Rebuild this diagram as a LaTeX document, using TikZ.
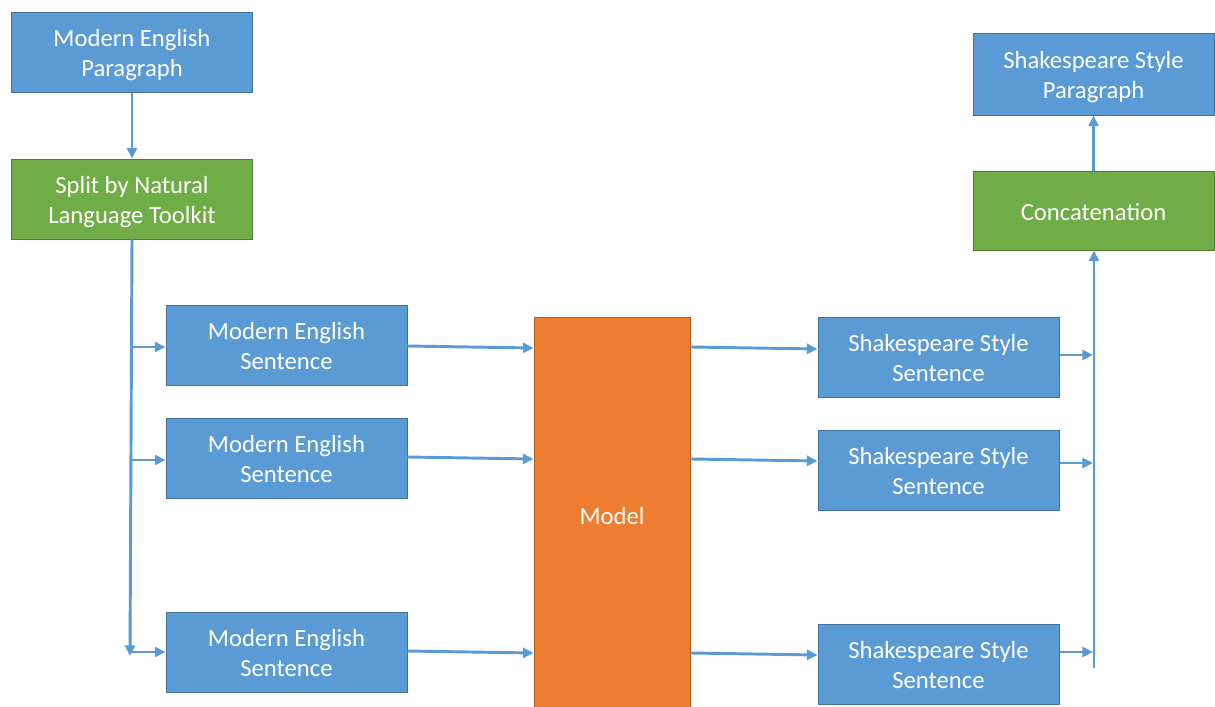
\documentclass[tikz,border=0pt]{standalone}
\usepackage{fontspec}
\setmainfont{Carlito}
\usetikzlibrary{arrows.meta}
\definecolor{bluefill}{HTML}{5B9BD5}
\definecolor{blueline}{HTML}{41719C}
\definecolor{greenfill}{HTML}{70AD47}
\definecolor{greenline}{HTML}{507E32}
\definecolor{orangefill}{HTML}{ED7D31}
\definecolor{orangeline}{HTML}{AE5A21}
\definecolor{arrowblue}{HTML}{5B9BD5}
\newcommand\boxtext[1]{\raisebox{-2.4pt}[\height][\depth]{\begin{tabular}{@{}c@{}}#1\end{tabular}}}
\newcommand\onetext[1]{\raisebox{-1.5pt}[\height][\depth]{#1}}
\tikzset{
  box/.style={draw=blueline, fill=bluefill, line width=0.75pt, text=white,
    minimum width=180.75pt, minimum height=60pt, inner sep=0pt, align=center,
    font=\fontsize{18.5pt}{22.5pt}\selectfont},
  gbox/.style={box, draw=greenline, fill=greenfill},
  obox/.style={box, draw=orangeline, fill=orangefill, minimum width=117pt, minimum height=296.25pt},
  conn/.style={draw=arrowblue, line width=2.2pt, -{Triangle[length=8pt,width=7.5pt]}}
}
\begin{document}
\begin{tikzpicture}[x=0.75pt,y=-0.75pt]
\useasboundingbox (0,0) rectangle (1215,707);
\node[box] (mep) at (132,52.5) {\boxtext{Modern English\\Paragraph}};
\node[gbox] (split) at (132,199) {\boxtext{Split by Natural\\Language Toolkit}};
\node[box] (mes1) at (286.5,345) {\boxtext{Modern English\\Sentence}};
\node[box] (mes2) at (286.5,458) {\boxtext{Modern English\\Sentence}};
\node[box] (mes3) at (286.5,652) {\boxtext{Modern English\\Sentence}};
\node[obox] (model) at (612,514.5) {\onetext{Model}};
\node[box] (sss1) at (938.5,357) {\boxtext{Shakespeare Style\\Sentence}};
\node[box] (sss2) at (938.5,470) {\boxtext{Shakespeare Style\\Sentence}};
\node[box] (sss3) at (938.5,664) {\boxtext{Shakespeare Style\\Sentence}};
\node[gbox, minimum height=59.25pt] (concat) at (1093.5,210.5) {\onetext{Concatenation}};
\node[box, minimum height=61.5pt] (ssp) at (1093.5,74) {\boxtext{Shakespeare Style\\Paragraph}};

% left trunk
\coordinate (lbot) at (130,656);
\coordinate (b1) at (130,347);
\coordinate (b2) at (130,460);
\coordinate (b3) at (130,652);
\draw[conn] (mep.south) -- (split.north);
\draw[conn] (split.south) -- (lbot);
\draw[conn] (b1) -- (b1 -| mes1.west);
\draw[conn] (b2) -- (b2 -| mes2.west);
\draw[conn] (b3) -- (b3 -| mes3.west);

% sentences to model
\draw[conn] (mes1.east |- 0,346) -- (model.west |- 0,348);
\draw[conn] (mes2.east |- 0,457) -- (model.west |- 0,459);
\draw[conn] (mes3.east |- 0,651) -- (model.west |- 0,653);

% model to outputs
\draw[conn] (model.east |- 0,347) -- (sss1.west |- 0,349);
\draw[conn] (model.east |- 0,459) -- (sss2.west |- 0,461);
\draw[conn] (model.east |- 0,653) -- (sss3.west |- 0,655);

% right trunk
\coordinate (rbot) at (1094,668);
\coordinate (r1) at (1093,355);
\coordinate (r2) at (1093,463);
\coordinate (r3) at (1093,652);
\draw[conn] (sss1.east |- r1) -- (r1);
\draw[conn] (sss2.east |- r2) -- (r2);
\draw[conn] (sss3.east |- r3) -- (r3);
\draw[conn] (rbot) -- (rbot |- concat.south);
\draw[conn] (concat.north) -- (ssp.south);
\end{tikzpicture}
\end{document}
